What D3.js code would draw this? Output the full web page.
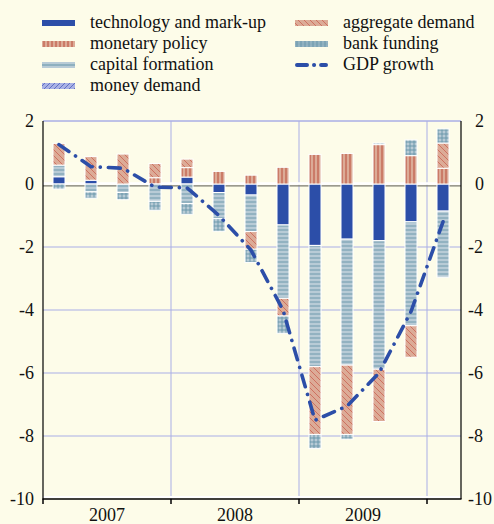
<!DOCTYPE html>
<html>
<head>
<meta charset="utf-8">
<script src="https://cdn.jsdelivr.net/npm/d3@7"></script>
<style>
body { margin: 0; background: #fdfce9; }
svg { display: block; font-family: "Liberation Serif", "Times New Roman", serif; }
</style>
</head>
<body>
<svg id="chart" width="494" height="524"></svg>
<script>
"use strict";

// quarters on the x axis
const quarters = ["2007Q1", "2007Q2", "2007Q3", "2007Q4",
                  "2008Q1", "2008Q2", "2008Q3", "2008Q4",
                  "2009Q1", "2009Q2", "2009Q3", "2009Q4", "2010Q1"];
const years = ["2007", "2008", "2009"];
const yTicks = [2, 0, -2, -4, -6, -8, -10];

// contributions (percentage points)
const tech      = [0.23, 0.12, 0, 0, 0.22, -0.27, -0.35, -1.3, -1.95, -1.75, -1.8, -1.2, -0.86];
const monetary  = [0, 0, 0, 0.2, 0.3, 0.4, 0.28, 0.53, 0.94, 0.97, 1.25, 0.9, 0.5];
const capital   = [0.37, -0.25, -0.27, -0.55, -0.62, -0.83, -1.16, -2.33, -3.85, -4.0, -4.08, -3.3, -2.1];
const moneyDem  = [0, 0, 0, 0, 0, 0, 0, 0, 0, 0, 0, 0, 0];
const aggregate = [0.69, 0.75, 0.95, 0.45, 0.27, 0, -0.56, -0.56, -2.15, -2.2, -1.66, -1.0, 0.8];
const bank      = [-0.16, -0.2, -0.23, -0.28, -0.34, -0.4, -0.42, -0.55, -0.45, -0.15, 0.05, 0.5, 0.45];
const gdp       = [1.25, 0.55, 0.5, -0.1, -0.12, -1.0, -2.1, -4.0, -7.5, -7.05, -6.0, -4.05, -1.2];

const keys = ["tech", "monetary", "capital", "money", "aggregate", "bank"];
const labels = {
    tech: "technology and mark-up",
    monetary: "monetary policy",
    capital: "capital formation",
    money: "money demand",
    aggregate: "aggregate demand",
    bank: "bank funding",
    gdp: "GDP growth"
};

const rows = quarters.map((q, i) => ({
    q: q, tech: tech[i], monetary: monetary[i], capital: capital[i],
    money: moneyDem[i], aggregate: aggregate[i], bank: bank[i]
}));

const blue = "#2c4ea8", salmon = "#dcab97", steel = "#b8cbd6", lav = "#a9b1e4";
const gridCol = "#a9aee6";

const svg = d3.select("#chart");
const left = 43, right = 461, plotRight = 459;

const x = d3.scaleBand()
    .domain(quarters)
    .range([left, plotRight])
    .paddingInner(0.625)
    .paddingOuter(0.3125);

const y = d3.scaleLinear()
    .domain([-10, 2])
    .range([499, 121]);

const qStart = q => x(q) - x.step() * x.paddingOuter();

// patterns
const defs = svg.append("defs");
function pattern(id, w, h, bg, path, col, sw) {
    const p = defs.append("pattern").attr("id", id)
        .attr("patternUnits", "userSpaceOnUse")
        .attr("width", w).attr("height", h);
    p.append("rect").attr("width", w).attr("height", h).attr("fill", bg);
    if (path) p.append("path").attr("d", path).attr("stroke", col).attr("stroke-width", sw).attr("fill", "none");
}
pattern("p-monetary", 4, 4, salmon, "M2,0V4", "#b5402f", 0.9);
pattern("p-capital", 4, 4, steel, "M0,2H4", "#6494a8", 0.9);
pattern("p-money", 5, 5, lav, "M0,5L5,0M-1,1L1,-1M4,6L6,4", "#4d5fc0", 0.8);
pattern("p-aggregate", 6, 6, salmon, "M0,0L6,6M-1,5L1,7M5,-1L7,1", "#c4493b", 0.6);
pattern("p-bank", 4, 4, steel, "M2,0V4M0,2H4", "#6494a8", 0.9);

const fills = {
    tech: blue, monetary: "url(#p-monetary)", capital: "url(#p-capital)",
    money: "url(#p-money)", aggregate: "url(#p-aggregate)", bank: "url(#p-bank)"
};

// grid
const yearBounds = years.slice(1).map(yr => qStart(yr + "Q1")).concat([qStart("2010Q1")]);

svg.append("g")
    .selectAll("line")
    .data(yTicks.filter(d => d !== 0 && d !== -10))
    .enter().append("line")
    .attr("x1", left).attr("x2", right)
    .attr("y1", d => y(d)).attr("y2", d => y(d))
    .attr("stroke", gridCol).attr("stroke-width", 1);

svg.append("g")
    .selectAll("line")
    .data(yearBounds)
    .enter().append("line")
    .attr("x1", d => d).attr("x2", d => d)
    .attr("y1", y(2)).attr("y2", y(-10))
    .attr("stroke", gridCol).attr("stroke-width", 1);

// zero line
svg.append("line")
    .attr("x1", left).attr("x2", right)
    .attr("y1", y(0) - 0.5).attr("y2", y(0) - 0.5)
    .attr("stroke", "#fff").attr("stroke-width", 2.5);
svg.append("line")
    .attr("x1", left).attr("x2", right)
    .attr("y1", y(0) + 1.8).attr("y2", y(0) + 1.8)
    .attr("stroke", "#7a7a70").attr("stroke-width", 1.2);

// stacked bars
const series = d3.stack().keys(keys).offset(d3.stackOffsetDiverging)(rows);

svg.append("g")
    .selectAll("g")
    .data(series)
    .enter().append("g")
    .attr("fill", d => fills[d.key])
    .selectAll("rect")
    .data(d => d.filter(s => s[1] !== s[0]))
    .enter().append("rect")
    .attr("x", d => x(d.data.q))
    .attr("width", x.bandwidth())
    .attr("y", d => y(Math.max(d[0], d[1])))
    .attr("height", d => Math.abs(y(d[0]) - y(d[1])))
    .attr("stroke", "#fff")
    .attr("stroke-width", 1);

// GDP growth line
const line = d3.line()
    .x((d, i) => x(quarters[i]) + x.bandwidth() / 2)
    .y(d => y(d));

svg.append("path")
    .datum(gdp)
    .attr("d", line)
    .attr("fill", "none")
    .attr("stroke", blue)
    .attr("stroke-width", 3.6)
    .attr("stroke-linecap", "round")
    .attr("stroke-dasharray", "12,8,0.1,8");

// frame
svg.append("line").attr("x1", left).attr("x2", right)
    .attr("y1", y(2)).attr("y2", y(2)).attr("stroke", gridCol);
svg.append("line").attr("x1", left).attr("x2", right)
    .attr("y1", y(-10) - 2).attr("y2", y(-10) - 2).attr("stroke", "#fff").attr("stroke-width", 2);
svg.append("line").attr("x1", left - 0.5).attr("x2", right + 0.5)
    .attr("y1", y(-10)).attr("y2", y(-10)).attr("stroke", "#000").attr("stroke-width", 1.5);
svg.append("line").attr("x1", left).attr("x2", left)
    .attr("y1", y(2)).attr("y2", y(-10)).attr("stroke", "#000").attr("stroke-width", 1.2);
svg.append("line").attr("x1", right).attr("x2", right)
    .attr("y1", y(2)).attr("y2", y(-10)).attr("stroke", "#000").attr("stroke-width", 1.2);

// year ticks below the axis
svg.append("g")
    .selectAll("line")
    .data([qStart("2007Q1")].concat(yearBounds))
    .enter().append("line")
    .attr("x1", d => d).attr("x2", d => d)
    .attr("y1", y(-10)).attr("y2", y(-10) + 5)
    .attr("stroke", "#000").attr("stroke-width", 1.5);

// y axes
const fmt = d => String(d);
const yl = svg.append("g")
    .attr("transform", "translate(" + left + ",0)")
    .call(d3.axisLeft(y).tickValues(yTicks).tickSize(0).tickPadding(9).tickFormat(fmt));
const yr = svg.append("g")
    .attr("transform", "translate(" + right + ",0)")
    .call(d3.axisRight(y).tickValues(yTicks).tickSize(0).tickPadding(7).tickFormat(fmt));
yr.selectAll("text").attr("dx", d => d >= 0 ? 7 : 0);

// year labels
const yearScale = d3.scaleBand().domain(years).range([qStart("2007Q1"), qStart("2010Q1")]);
const xa = svg.append("g")
    .attr("transform", "translate(0," + y(-10) + ")")
    .call(d3.axisBottom(yearScale).tickSize(0).tickPadding(9));

[yl, yr, xa].forEach(g => {
    g.select(".domain").remove();
    g.selectAll("text").style("font-size", "18px").attr("fill", "#111")
        .style("font-family", "'Liberation Serif', serif");
});

// legend
const legendKeys = keys.concat(["gdp"]);
const leg = svg.append("g")
    .selectAll("g")
    .data(legendKeys)
    .enter().append("g")
    .attr("transform", (d, i) => "translate(" + (i < 4 ? 42 : 295) + "," + (23 + (i % 4) * 21) + ")");

leg.each(function(k) {
    const g = d3.select(this);
    if (k === "gdp") {
        g.append("line").attr("x1", 2).attr("x2", 31).attr("y1", 0).attr("y2", 0)
            .attr("stroke", blue).attr("stroke-width", 4).attr("stroke-linecap", "round")
            .attr("stroke-dasharray", "10,7,0.1,7");
    } else if (k === "capital") {
        g.append("rect").attr("x", 0).attr("y", -3).attr("width", 33).attr("height", 6).attr("fill", steel);
        g.append("line").attr("x1", 0).attr("x2", 33).attr("y1", 0).attr("y2", 0)
            .attr("stroke", "#6494a8").attr("stroke-width", 1);
    } else if (k === "bank") {
        g.append("rect").attr("x", 0).attr("y", -3).attr("width", 33).attr("height", 6).attr("fill", "url(#p-bank)");
        g.append("line").attr("x1", 0).attr("x2", 33).attr("y1", 0).attr("y2", 0)
            .attr("stroke", "#6494a8").attr("stroke-width", 1);
    } else {
        g.append("rect").attr("x", 0).attr("y", -3).attr("width", 33).attr("height", 6).attr("fill", fills[k]);
    }
    g.append("text")
        .attr("x", 48)
        .attr("y", 5)
        .style("font-size", "18px")
        .attr("fill", "#111")
        .text(labels[k]);
});
</script>
</body>
</html>
